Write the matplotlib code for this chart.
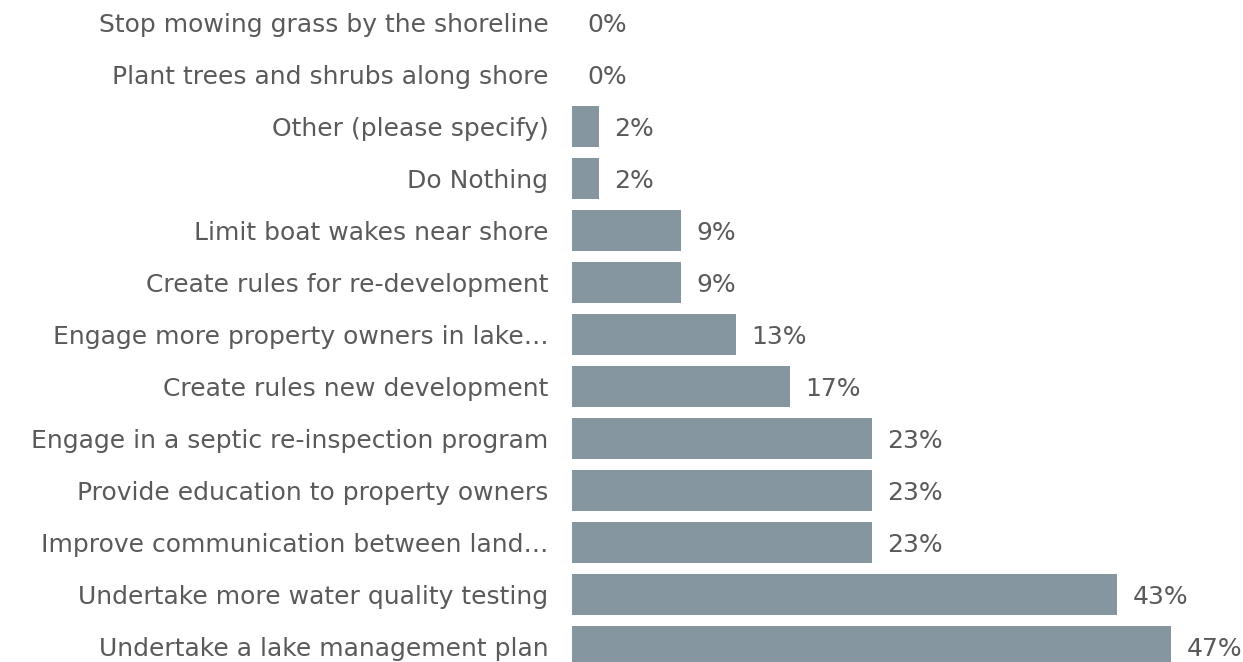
import matplotlib.pyplot as plt

# survey answers, top row first
labels = [
    "Stop mowing grass by the shoreline",
    "Plant trees and shrubs along shore",
    "Other (please specify)",
    "Do Nothing",
    "Limit boat wakes near shore",
    "Create rules for re-development",
    "Engage more property owners in lake\u2026",
    "Create rules new development",
    "Engage in a septic re-inspection program",
    "Provide education to property owners",
    "Improve communication between land\u2026",
    "Undertake more water quality testing",
    "Undertake a lake management plan",
]
pct = [0, 0, 2.1, 2.1, 8.5, 8.5, 12.8, 17.0, 23.4, 23.4, 23.4, 42.6, 46.8]
pct_text = ["0%", "0%", "2%", "2%", "9%", "9%", "13%", "17%", "23%", "23%", "23%", "43%", "47%"]

bar_col = "#8696a0"
txt_col = "#5a5a5a"
font = "DejaVu Sans"
fs = 18

W, H = 1243, 662
fig = plt.figure(figsize=(W / 100, H / 100), dpi=100)
left = 572
ax = fig.add_axes([left / W, 0, 1 - left / W, 1])

ypos = list(range(len(labels)))
ax.barh(ypos, pct, height=0.79, color=bar_col)

# row 0 centre at 22.5px from top, 52px per row
row_px = 52.0
ax.set_ylim((H - 22.5) / row_px, -22.5 / row_px)
ax.set_xlim(0, (W - left) / 12.8)
ax.set_xticks([])
ax.set_yticks([])
for s in ax.spines.values():
    s.set_visible(False)

# category names, right aligned just left of the bars
for y, name in zip(ypos, labels):
    ax.annotate(name, (0, y), xytext=(-17, -1.5), textcoords="offset points",
                va="center", ha="right", fontsize=fs, color=txt_col,
                family=font, annotation_clip=False)

for y, v, t in zip(ypos, pct, pct_text):
    ax.annotate(t, (v, y), xytext=(11, -1.5), textcoords="offset points",
                va="center", ha="left", fontsize=fs, color=txt_col, family=font)

fig.savefig("out.png", dpi=100)
